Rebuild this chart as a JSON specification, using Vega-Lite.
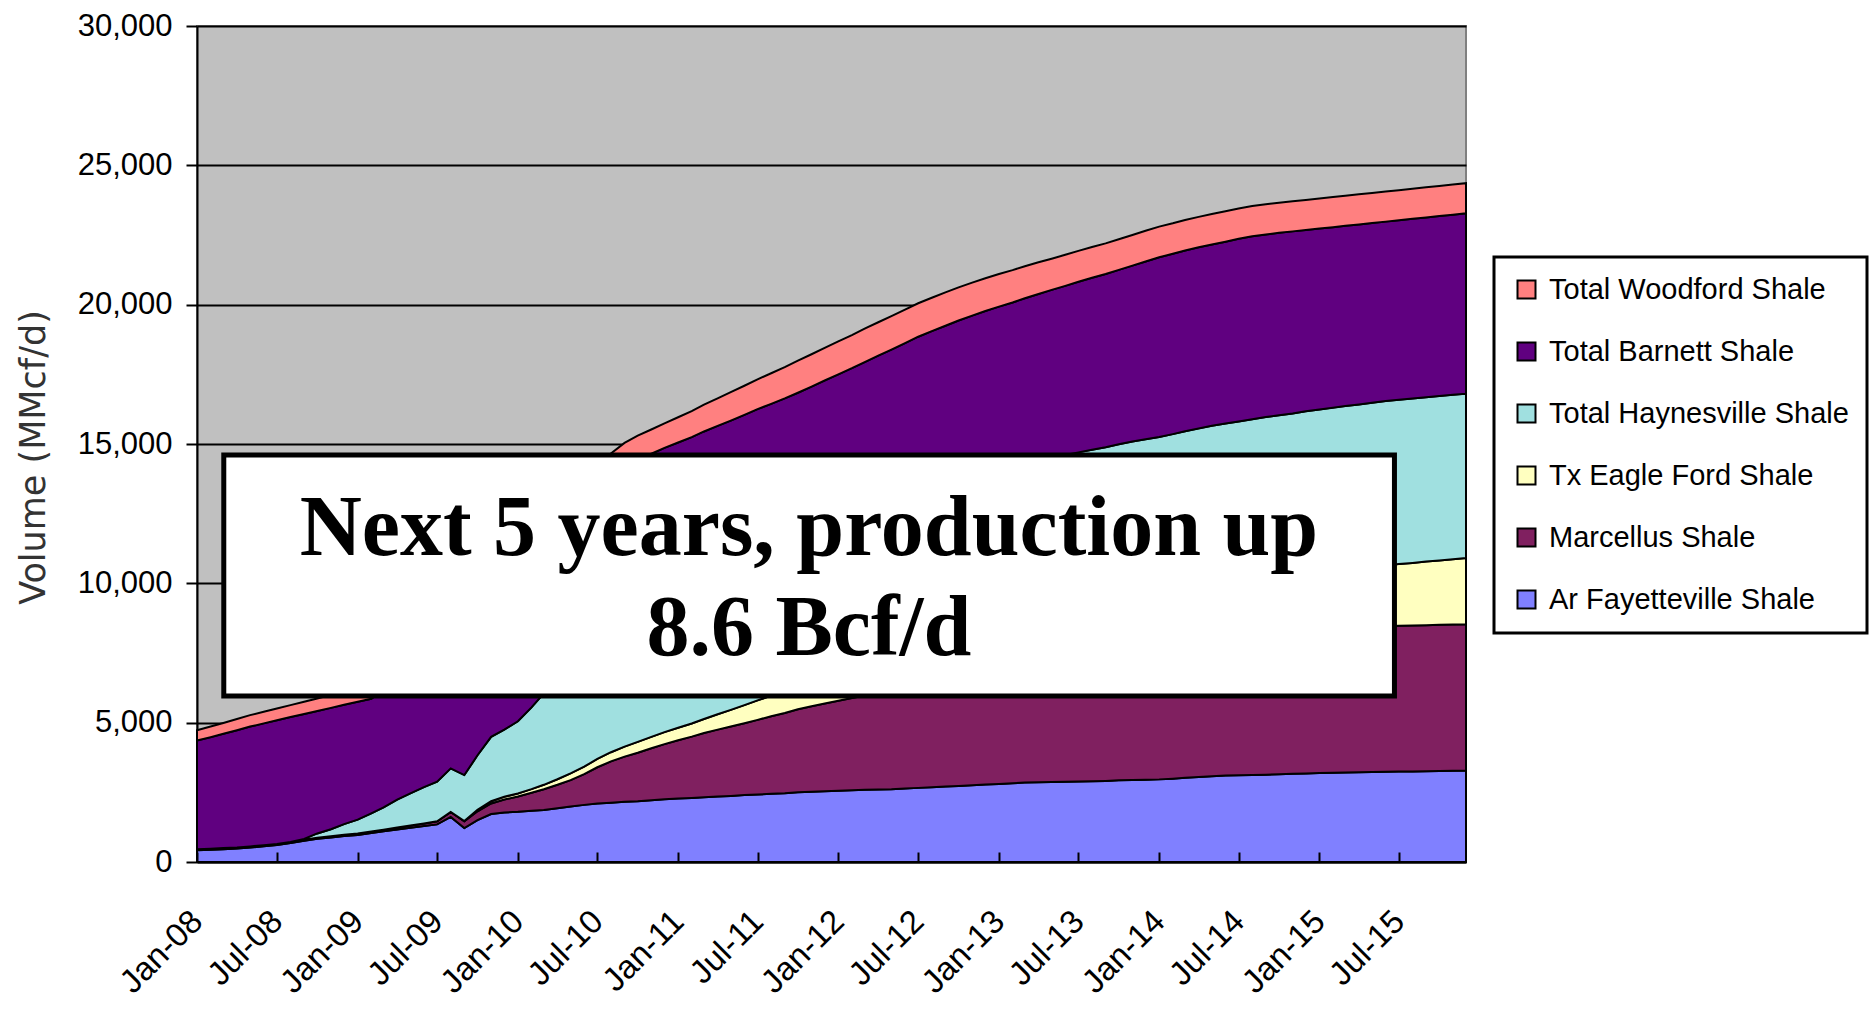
{
  "$schema": "https://vega.github.io/schema/vega-lite/v6.json",
  "width": 1269,
  "height": 836,
  "autosize": {"type": "none"},
  "padding": {"left": 197, "top": 26, "right": 406, "bottom": 147},
  "background": "white",
  "config": {"view": {"fill": "#C0C0C0", "stroke": "#808080", "strokeWidth": 2}, "legend": {"strokeWidth": 3}},
  "datasets": {
    "series": [
      {"k": "fay", "name": "Ar Fayetteville Shale", "rank": 1},
      {"k": "mar", "name": "Marcellus Shale", "rank": 2},
      {"k": "eag", "name": "Tx Eagle Ford Shale", "rank": 3},
      {"k": "hay", "name": "Total Haynesville Shale", "rank": 4},
      {"k": "bar", "name": "Total Barnett Shale", "rank": 5},
      {"k": "woo", "name": "Total Woodford Shale", "rank": 6}
    ],
    "note": [
      {"x1": "2008-03-02", "x2": "2015-06-21", "y1": 14605, "y2": 5957, "xm": "2011-10-26", "ym": 11950}
    ],
    "prod": [
      {"m": "2008-01-01", "fay": 420, "mar": 40, "eag": 0, "hay": 0, "bar": 3900, "woo": 370},
      {"m": "2008-02-01", "fay": 440, "mar": 40, "eag": 0, "hay": 0, "bar": 4000, "woo": 380},
      {"m": "2008-03-01", "fay": 460, "mar": 40, "eag": 0, "hay": 0, "bar": 4100, "woo": 390},
      {"m": "2008-04-01", "fay": 480, "mar": 40, "eag": 0, "hay": 0, "bar": 4210, "woo": 400},
      {"m": "2008-05-01", "fay": 520, "mar": 40, "eag": 0, "hay": 0, "bar": 4300, "woo": 410},
      {"m": "2008-06-01", "fay": 565, "mar": 40, "eag": 0, "hay": 0, "bar": 4370, "woo": 415},
      {"m": "2008-07-01", "fay": 610, "mar": 40, "eag": 0, "hay": 0, "bar": 4440, "woo": 420},
      {"m": "2008-08-01", "fay": 680, "mar": 40, "eag": 0, "hay": 0, "bar": 4480, "woo": 430},
      {"m": "2008-09-01", "fay": 760, "mar": 40, "eag": 0, "hay": 30, "bar": 4480, "woo": 440},
      {"m": "2008-10-01", "fay": 830, "mar": 45, "eag": 0, "hay": 150, "bar": 4395, "woo": 450},
      {"m": "2008-11-01", "fay": 880, "mar": 45, "eag": 0, "hay": 250, "bar": 4355, "woo": 470},
      {"m": "2008-12-01", "fay": 930, "mar": 50, "eag": 0, "hay": 380, "bar": 4280, "woo": 490},
      {"m": "2009-01-01", "fay": 970, "mar": 50, "eag": 0, "hay": 500, "bar": 4230, "woo": 510},
      {"m": "2009-02-01", "fay": 1040, "mar": 55, "eag": 0, "hay": 650, "bar": 4115, "woo": 530},
      {"m": "2009-03-01", "fay": 1100, "mar": 60, "eag": 0, "hay": 800, "bar": 4210, "woo": 550},
      {"m": "2009-04-01", "fay": 1170, "mar": 70, "eag": 0, "hay": 1000, "bar": 4300, "woo": 570},
      {"m": "2009-05-01", "fay": 1230, "mar": 80, "eag": 0, "hay": 1150, "bar": 4400, "woo": 590},
      {"m": "2009-06-01", "fay": 1290, "mar": 95, "eag": 0, "hay": 1300, "bar": 4500, "woo": 610},
      {"m": "2009-07-01", "fay": 1350, "mar": 110, "eag": 0, "hay": 1420, "bar": 4590, "woo": 630},
      {"m": "2009-08-01", "fay": 1620, "mar": 180, "eag": 0, "hay": 1560, "bar": 4690, "woo": 650},
      {"m": "2009-09-01", "fay": 1220, "mar": 240, "eag": 10, "hay": 1650, "bar": 4780, "woo": 670},
      {"m": "2009-10-01", "fay": 1500, "mar": 320, "eag": 50, "hay": 1960, "bar": 4880, "woo": 690},
      {"m": "2009-11-01", "fay": 1720, "mar": 380, "eag": 80, "hay": 2310, "bar": 4980, "woo": 710},
      {"m": "2009-12-01", "fay": 1780, "mar": 460, "eag": 100, "hay": 2410, "bar": 5070, "woo": 730},
      {"m": "2010-01-01", "fay": 1800, "mar": 550, "eag": 110, "hay": 2590, "bar": 5170, "woo": 750},
      {"m": "2010-02-01", "fay": 1835, "mar": 650, "eag": 130, "hay": 2935, "bar": 5260, "woo": 770},
      {"m": "2010-03-01", "fay": 1870, "mar": 740, "eag": 160, "hay": 3280, "bar": 5360, "woo": 790},
      {"m": "2010-04-01", "fay": 1930, "mar": 840, "eag": 200, "hay": 3450, "bar": 5460, "woo": 805},
      {"m": "2010-05-01", "fay": 1990, "mar": 950, "eag": 240, "hay": 3600, "bar": 5550, "woo": 820},
      {"m": "2010-06-01", "fay": 2050, "mar": 1100, "eag": 270, "hay": 3750, "bar": 5650, "woo": 835},
      {"m": "2010-07-01", "fay": 2100, "mar": 1300, "eag": 300, "hay": 3900, "bar": 5750, "woo": 845},
      {"m": "2010-08-01", "fay": 2130, "mar": 1480, "eag": 330, "hay": 4030, "bar": 5840, "woo": 850},
      {"m": "2010-09-01", "fay": 2160, "mar": 1620, "eag": 360, "hay": 4150, "bar": 5900, "woo": 850},
      {"m": "2010-10-01", "fay": 2180, "mar": 1740, "eag": 390, "hay": 4270, "bar": 5860, "woo": 860},
      {"m": "2010-11-01", "fay": 2220, "mar": 1860, "eag": 410, "hay": 4380, "bar": 5780, "woo": 870},
      {"m": "2010-12-01", "fay": 2250, "mar": 1980, "eag": 430, "hay": 4480, "bar": 5720, "woo": 880},
      {"m": "2011-01-01", "fay": 2280, "mar": 2090, "eag": 450, "hay": 4580, "bar": 5655, "woo": 905},
      {"m": "2011-02-01", "fay": 2300, "mar": 2200, "eag": 470, "hay": 4670, "bar": 5605, "woo": 935},
      {"m": "2011-03-01", "fay": 2320, "mar": 2310, "eag": 500, "hay": 4760, "bar": 5560, "woo": 960},
      {"m": "2011-04-01", "fay": 2350, "mar": 2400, "eag": 550, "hay": 4840, "bar": 5510, "woo": 990},
      {"m": "2011-05-01", "fay": 2370, "mar": 2490, "eag": 600, "hay": 4920, "bar": 5460, "woo": 1020},
      {"m": "2011-06-01", "fay": 2400, "mar": 2580, "eag": 650, "hay": 4990, "bar": 5425, "woo": 1045},
      {"m": "2011-07-01", "fay": 2420, "mar": 2680, "eag": 700, "hay": 5060, "bar": 5390, "woo": 1070},
      {"m": "2011-08-01", "fay": 2450, "mar": 2780, "eag": 740, "hay": 5120, "bar": 5350, "woo": 1100},
      {"m": "2011-09-01", "fay": 2470, "mar": 2880, "eag": 770, "hay": 5180, "bar": 5335, "woo": 1125},
      {"m": "2011-10-01", "fay": 2500, "mar": 2980, "eag": 800, "hay": 5235, "bar": 5325, "woo": 1150},
      {"m": "2011-11-01", "fay": 2520, "mar": 3070, "eag": 830, "hay": 5290, "bar": 5350, "woo": 1160},
      {"m": "2011-12-01", "fay": 2540, "mar": 3150, "eag": 860, "hay": 5340, "bar": 5390, "woo": 1170},
      {"m": "2012-01-01", "fay": 2560, "mar": 3230, "eag": 895, "hay": 5390, "bar": 5425, "woo": 1180},
      {"m": "2012-02-01", "fay": 2575, "mar": 3310, "eag": 925, "hay": 5435, "bar": 5475, "woo": 1190},
      {"m": "2012-03-01", "fay": 2590, "mar": 3380, "eag": 955, "hay": 5480, "bar": 5535, "woo": 1200},
      {"m": "2012-04-01", "fay": 2600, "mar": 3470, "eag": 990, "hay": 5520, "bar": 5590, "woo": 1200},
      {"m": "2012-05-01", "fay": 2610, "mar": 3550, "eag": 1020, "hay": 5560, "bar": 5650, "woo": 1200},
      {"m": "2012-06-01", "fay": 2635, "mar": 3640, "eag": 1050, "hay": 5595, "bar": 5700, "woo": 1200},
      {"m": "2012-07-01", "fay": 2660, "mar": 3720, "eag": 1080, "hay": 5630, "bar": 5760, "woo": 1200},
      {"m": "2012-08-01", "fay": 2685, "mar": 3800, "eag": 1115, "hay": 5660, "bar": 5790, "woo": 1200},
      {"m": "2012-09-01", "fay": 2710, "mar": 3870, "eag": 1145, "hay": 5690, "bar": 5830, "woo": 1195},
      {"m": "2012-10-01", "fay": 2730, "mar": 3940, "eag": 1175, "hay": 5715, "bar": 5870, "woo": 1190},
      {"m": "2012-11-01", "fay": 2755, "mar": 4010, "eag": 1210, "hay": 5740, "bar": 5890, "woo": 1185},
      {"m": "2012-12-01", "fay": 2780, "mar": 4080, "eag": 1240, "hay": 5760, "bar": 5915, "woo": 1175},
      {"m": "2013-01-01", "fay": 2800, "mar": 4150, "eag": 1270, "hay": 5780, "bar": 5930, "woo": 1170},
      {"m": "2013-02-01", "fay": 2825, "mar": 4210, "eag": 1300, "hay": 5795, "bar": 5950, "woo": 1160},
      {"m": "2013-03-01", "fay": 2850, "mar": 4270, "eag": 1335, "hay": 5810, "bar": 5965, "woo": 1150},
      {"m": "2013-04-01", "fay": 2860, "mar": 4330, "eag": 1365, "hay": 5825, "bar": 6005, "woo": 1135},
      {"m": "2013-05-01", "fay": 2870, "mar": 4390, "eag": 1395, "hay": 5840, "bar": 6035, "woo": 1120},
      {"m": "2013-06-01", "fay": 2880, "mar": 4450, "eag": 1430, "hay": 5845, "bar": 6070, "woo": 1115},
      {"m": "2013-07-01", "fay": 2890, "mar": 4500, "eag": 1460, "hay": 5850, "bar": 6120, "woo": 1110},
      {"m": "2013-08-01", "fay": 2900, "mar": 4550, "eag": 1490, "hay": 5850, "bar": 6175, "woo": 1105},
      {"m": "2013-09-01", "fay": 2910, "mar": 4600, "eag": 1520, "hay": 5855, "bar": 6215, "woo": 1100},
      {"m": "2013-10-01", "fay": 2930, "mar": 4650, "eag": 1555, "hay": 5855, "bar": 6260, "woo": 1100},
      {"m": "2013-11-01", "fay": 2945, "mar": 4700, "eag": 1585, "hay": 5860, "bar": 6310, "woo": 1100},
      {"m": "2013-12-01", "fay": 2955, "mar": 4740, "eag": 1615, "hay": 5860, "bar": 6380, "woo": 1100},
      {"m": "2014-01-01", "fay": 2965, "mar": 4780, "eag": 1650, "hay": 5860, "bar": 6445, "woo": 1100},
      {"m": "2014-02-01", "fay": 2990, "mar": 4820, "eag": 1680, "hay": 5865, "bar": 6470, "woo": 1095},
      {"m": "2014-03-01", "fay": 3020, "mar": 4860, "eag": 1710, "hay": 5865, "bar": 6490, "woo": 1095},
      {"m": "2014-04-01", "fay": 3050, "mar": 4900, "eag": 1740, "hay": 5870, "bar": 6500, "woo": 1090},
      {"m": "2014-05-01", "fay": 3080, "mar": 4930, "eag": 1775, "hay": 5870, "bar": 6505, "woo": 1090},
      {"m": "2014-06-01", "fay": 3100, "mar": 4960, "eag": 1805, "hay": 5870, "bar": 6525, "woo": 1090},
      {"m": "2014-07-01", "fay": 3110, "mar": 4990, "eag": 1835, "hay": 5875, "bar": 6555, "woo": 1085},
      {"m": "2014-08-01", "fay": 3120, "mar": 5020, "eag": 1870, "hay": 5875, "bar": 6570, "woo": 1085},
      {"m": "2014-09-01", "fay": 3135, "mar": 5050, "eag": 1900, "hay": 5880, "bar": 6555, "woo": 1080},
      {"m": "2014-10-01", "fay": 3150, "mar": 5070, "eag": 1930, "hay": 5880, "bar": 6550, "woo": 1080},
      {"m": "2014-11-01", "fay": 3165, "mar": 5090, "eag": 1960, "hay": 5880, "bar": 6535, "woo": 1080},
      {"m": "2014-12-01", "fay": 3180, "mar": 5115, "eag": 1995, "hay": 5885, "bar": 6505, "woo": 1080},
      {"m": "2015-01-01", "fay": 3190, "mar": 5140, "eag": 2025, "hay": 5885, "bar": 6490, "woo": 1080},
      {"m": "2015-02-01", "fay": 3200, "mar": 5160, "eag": 2055, "hay": 5890, "bar": 6475, "woo": 1080},
      {"m": "2015-03-01", "fay": 3210, "mar": 5175, "eag": 2090, "hay": 5890, "bar": 6465, "woo": 1080},
      {"m": "2015-04-01", "fay": 3220, "mar": 5190, "eag": 2120, "hay": 5890, "bar": 6460, "woo": 1080},
      {"m": "2015-05-01", "fay": 3230, "mar": 5205, "eag": 2150, "hay": 5895, "bar": 6450, "woo": 1080},
      {"m": "2015-06-01", "fay": 3240, "mar": 5220, "eag": 2185, "hay": 5895, "bar": 6440, "woo": 1080},
      {"m": "2015-07-01", "fay": 3245, "mar": 5230, "eag": 2215, "hay": 5895, "bar": 6445, "woo": 1080},
      {"m": "2015-08-01", "fay": 3250, "mar": 5235, "eag": 2245, "hay": 5900, "bar": 6450, "woo": 1080},
      {"m": "2015-09-01", "fay": 3260, "mar": 5240, "eag": 2280, "hay": 5900, "bar": 6450, "woo": 1080},
      {"m": "2015-10-01", "fay": 3265, "mar": 5245, "eag": 2310, "hay": 5900, "bar": 6460, "woo": 1080},
      {"m": "2015-11-01", "fay": 3275, "mar": 5250, "eag": 2340, "hay": 5900, "bar": 6465, "woo": 1080},
      {"m": "2015-12-01", "fay": 3280, "mar": 5250, "eag": 2375, "hay": 5900, "bar": 6475, "woo": 1080}
    ]
  },
  "layer": [
    {
      "data": {"name": "prod"},
      "transform": [
        {"fold": ["fay", "mar", "eag", "hay", "bar", "woo"], "as": ["k", "v"]},
        {"lookup": "k", "from": {"data": {"name": "series"}, "key": "k", "fields": ["name", "rank"]}}
      ],
      "mark": {"type": "area", "stroke": "black", "strokeWidth": 2, "interpolate": "linear"},
      "encoding": {
        "x": {
          "field": "m",
          "type": "temporal",
          "scale": {"type": "utc", "domain": ["2008-01-01", "2015-12-01"]},
          "axis": {
            "title": null,
            "format": "%b-%y",
            "tickCount": {"interval": "month", "step": 6},
            "labelAngle": -45,
            "labelAlign": "right",
            "labelBaseline": "middle",
            "labelFont": "Liberation Sans",
            "labelFontSize": 33,
            "labelColor": "black",
            "labelPadding": 64,
            "labelOverlap": false,
            "labelFlush": false,
            "labelBound": false,
            "tickSize": -10,
            "tickColor": "black",
            "tickWidth": 2,
            "domainColor": "black",
            "domainWidth": 2,
            "grid": false,
            "zindex": 1
          }
        },
        "y": {
          "field": "v",
          "type": "quantitative",
          "stack": "zero",
          "scale": {"domain": [0, 30000], "nice": false},
          "axis": {
            "title": "Volume (MMcf/d)",
            "values": [0, 5000, 10000, 15000, 20000, 25000, 30000],
            "format": ",.0f",
            "labelFont": "Liberation Sans",
            "labelFontSize": 31,
            "labelColor": "black",
            "labelPadding": 14,
            "tickSize": 11,
            "tickColor": "black",
            "tickWidth": 2,
            "domainColor": "black",
            "domainWidth": 2,
            "grid": true,
            "gridColor": "black",
            "gridWidth": 2,
            "gridOpacity": 1,
            "titleFont": "DejaVu Sans",
            "titleFontSize": 35,
            "titleFontWeight": "normal",
            "titleColor": "#333333",
            "titlePadding": 26,
            "titleY": 431
          }
        },
        "color": {
          "field": "name",
          "type": "nominal",
          "scale": {
            "domain": ["Total Woodford Shale", "Total Barnett Shale", "Total Haynesville Shale", "Tx Eagle Ford Shale", "Marcellus Shale", "Ar Fayetteville Shale"],
            "range": ["#FF8080", "#600080", "#A0E0E0", "#FFFFC0", "#802060", "#8080FF"]
          },
          "legend": {
            "title": null,
            "orient": "none",
            "legendX": 1297,
            "legendY": 231,
            "direction": "vertical",
            "symbolType": "square",
            "symbolSize": 324,
            "symbolStrokeColor": "black",
            "symbolStrokeWidth": 2,
            "symbolOpacity": 1,
            "labelFont": "Liberation Sans",
            "labelFontSize": 29,
            "labelColor": "black",
            "labelOffset": 8,
            "labelLimit": 600,
            "rowPadding": 32,
            "padding": 18,
            "strokeColor": "black",
            "fillColor": "white"
          }
        },
        "order": {"field": "rank", "type": "quantitative"}
      }
    },
    {
      "data": {"name": "note"},
      "mark": {"type": "rect", "fill": "white", "stroke": "black", "strokeWidth": 5},
      "encoding": {
        "x": {"field": "x1", "type": "temporal"},
        "x2": {"field": "x2"},
        "y": {"field": "y1", "type": "quantitative"},
        "y2": {"field": "y2"}
      }
    },
    {
      "data": {"name": "note"},
      "mark": {
        "type": "text",
        "text": ["Next 5 years, production up", "8.6 Bcf/d"],
        "font": "Liberation Serif",
        "fontWeight": "bold",
        "fontSize": 86,
        "lineHeight": 100,
        "align": "center",
        "baseline": "middle",
        "color": "black"
      },
      "encoding": {
        "x": {"field": "xm", "type": "temporal"},
        "y": {"field": "ym", "type": "quantitative"}
      }
    }
  ]
}
